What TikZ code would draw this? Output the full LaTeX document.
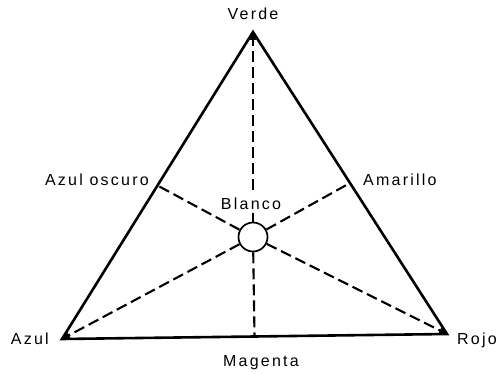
\documentclass[tikz,border=0pt]{standalone}
\usepackage{fontspec}
\setmainfont{Liberation Sans}[LetterSpace=14]
\usetikzlibrary{arrows.meta}
\begin{document}
\begin{tikzpicture}[x=1pt,y=-1pt,
  tri/.style={line width=2.6pt,line join=miter},
  dline/.style={line width=2.1pt,dash pattern=on 11pt off 5pt},
  tip/.style={-{Triangle[length=8pt,width=6pt]}},
  lbl/.style={inner sep=0pt,font=\fontsize{16}{19}\selectfont}]
\useasboundingbox (0,0) rectangle (498,374);
\coordinate (V) at (253,32);
\coordinate (A) at (62,339);
\coordinate (R) at (447,334);
\path (V) -- (A) coordinate[pos=0.5] (AO);
\path (V) -- (R) coordinate[pos=0.5] (AM);
\path (A) -- (R) coordinate[pos=0.5] (MG);
\node[draw,circle,line width=1.7pt,minimum size=29pt,inner sep=0pt] (W) at (253,237) {};
\draw[tri] (V) -- (A) -- (R) -- cycle;
\draw[dline,tip] (W) -- (V);
\draw[dline,tip] (W) -- (A);
\draw[dline,tip] (W) -- (R);
\draw[dline] (W) -- (AO);
\draw[dline] (W) -- (AM);
\draw[dline] (W) -- (MG);
\node[lbl,fill=white,inner sep=3pt,anchor=base] (bl) at (251,210) {Blanco};
\node[lbl,anchor=base] (lv) at (253,20) {Verde};
\node[lbl,anchor=base east] (lao) at (149,186) {Azul oscuro};
\node[lbl,anchor=base west] (lam) at (363,186) {Amarillo};
\node[lbl,anchor=base east] (la) at (49,344) {Azul};
\node[lbl,anchor=base west] (lr) at (457,344) {Rojo};
\node[lbl,anchor=base] (lm) at (261,366) {Magenta};
\end{tikzpicture}
\end{document}
